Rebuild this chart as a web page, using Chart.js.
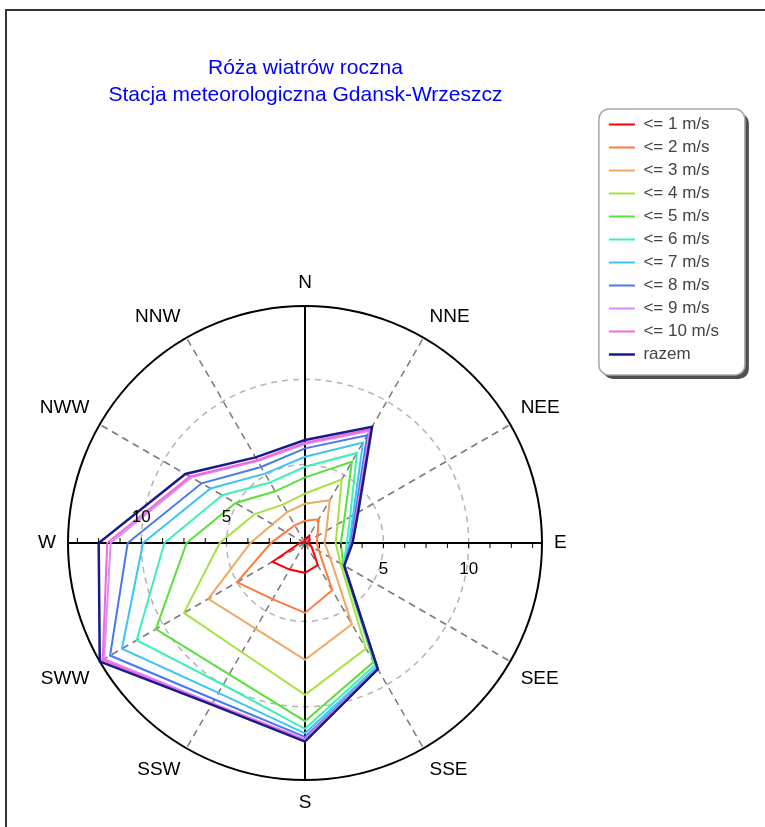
<!DOCTYPE html>
<html>
<head>
<meta charset="utf-8">
<title>Róża wiatrów roczna</title>
<script src="https://cdn.jsdelivr.net/npm/chart.js@4.4.1/dist/chart.umd.min.js"></script>
<style>
  html, body { margin: 0; padding: 0; background: #fff; overflow: hidden; }
  body { width: 765px; height: 827px; position: relative; }
  .frame { position: absolute; left: 5px; top: 9px; width: 900px; height: 900px; border: 2px solid #333; }
  .wrap { position: absolute; left: 8px; top: 12px; width: 757px; height: 815px; }
</style>
</head>
<body>
<div class="frame"></div>
<div class="wrap"><canvas id="rose"></canvas></div>
<script>
// directions, clockwise from north
const directions = ['N', 'NNE', 'NEE', 'E', 'SEE', 'SSE', 'S', 'SSW', 'SWW', 'W', 'NWW', 'NNW'];

// cumulative frequency [%] per speed class
const upTo1  = [0.6, 0.9, 0.7, 0.6, 0.85, 1.9, 2.15, 2.2, 2.6, 0.7, 0.45, 0.4];
const upTo2  = [1.7, 2.0, 1.25, 1.1, 1.35, 3.6, 4.5, 4.2, 5.0, 2.4, 1.7, 1.6];
const upTo3  = [2.7, 3.3, 1.85, 1.55, 2.1, 5.9, 7.25, 6.2, 6.95, 3.6, 2.6, 2.5];
const upTo4  = [3.3, 4.7, 2.6, 2.2, 2.8, 7.55, 9.3, 7.8, 8.6, 5.4, 3.8, 3.0];
const upTo5  = [4.25, 5.9, 3.05, 2.5, 2.98, 8.45, 10.85, 9.3, 10.5, 7.35, 5.1, 3.9];
const upTo6  = [4.87, 6.5, 3.45, 2.85, 3.02, 8.65, 11.3, 10.0, 11.8, 8.65, 6.0, 4.5];
const upTo7  = [5.46, 7.2, 3.65, 3.0, 3.04, 8.8, 11.56, 10.55, 12.8, 9.9, 6.8, 5.1];
const upTo8  = [5.95, 7.7, 3.8, 3.1, 3.05, 8.9, 11.77, 11.0, 13.6, 10.8, 7.4, 5.55];
const upTo9  = [6.2, 8.0, 3.9, 3.15, 3.06, 8.92, 11.9, 11.25, 14.0, 11.8, 8.1, 5.95];
const upTo10 = [6.28, 8.1, 3.93, 3.17, 3.06, 8.94, 11.95, 11.3, 14.1, 12.0, 8.2, 6.0];
const total  = [6.44, 8.27, 4.0, 3.19, 3.06, 8.95, 12.05, 11.35, 14.3, 12.5, 8.5, 6.2];

const seriesNames = ['<= 1 m/s', '<= 2 m/s', '<= 3 m/s', '<= 4 m/s', '<= 5 m/s', '<= 6 m/s',
  '<= 7 m/s', '<= 8 m/s', '<= 9 m/s', '<= 10 m/s', 'razem'];
const seriesColors = ['#ff0000', '#ff7a3d', '#f0a860', '#a8e040', '#5ae03c', '#3ef0b8',
  '#3cc4f5', '#4a78f0', '#d68cff', '#f26ad8', '#1a1a8c'];
const series = [upTo1, upTo2, upTo3, upTo4, upTo5, upTo6, upTo7, upTo8, upTo9, upTo10, total];

const axisLabels = [5, 10];
const minorStep = 1.25;

const titleLines = ['Róża wiatrów roczna', 'Stacja meteorologiczna Gdansk-Wrzeszcz'];

// the original scale runs from the smallest to the largest value
const allValues = series.flat();
const rMin = Math.min(...allValues);
const rMax = Math.max(...allValues);

const FONT = '"Liberation Sans", Arial, sans-serif';
const isOuter = c => c.tick && c.tick.value >= rMax - 1e-9;
const isMainAxis = c => c.index % 3 === 0;

function roundRectPath(ctx, x, y, w, h, rad) {
  ctx.beginPath();
  ctx.moveTo(x + rad, y);
  ctx.arcTo(x + w, y, x + w, y + h, rad);
  ctx.arcTo(x + w, y + h, x, y + h, rad);
  ctx.arcTo(x, y + h, x, y, rad);
  ctx.arcTo(x, y, x + w, y, rad);
  ctx.closePath();
}

// rounded box with shadow behind the legend
const legendFrame = {
  id: 'legendFrame',
  beforeDraw(chart) {
    const lg = chart.legend;
    if (!lg) return;
    const ctx = chart.ctx;
    const x = lg.left - 4, y = lg.top - 1, w = 146, h = 266;
    ctx.save();
    ctx.fillStyle = '#505050';
    roundRectPath(ctx, x + 4, y + 4, w, h, 10);
    ctx.fill();
    ctx.fillStyle = '#fff';
    ctx.strokeStyle = '#a8a8a8';
    ctx.lineWidth = 1.5;
    roundRectPath(ctx, x, y, w, h, 10);
    ctx.fill();
    ctx.stroke();
    ctx.restore();
  }
};

// ticks and numbers on the W-E axis, direction names round the circle
const roseAxes = {
  id: 'roseAxes',
  afterDraw(chart) {
    const r = chart.scales.r;
    const ctx = chart.ctx;
    const cx = r.xCenter, cy = r.yCenter;
    ctx.save();
    ctx.strokeStyle = '#000';
    ctx.lineWidth = 1;
    for (let v = minorStep; v < r.max; v += minorStep) {
      const d = r.getDistanceFromCenterForValue(v);
      ctx.beginPath();
      ctx.moveTo(cx + d, cy); ctx.lineTo(cx + d, cy + 5);
      ctx.moveTo(cx - d, cy); ctx.lineTo(cx - d, cy - 5);
      ctx.stroke();
    }

    ctx.fillStyle = '#000';
    ctx.textAlign = 'center';
    ctx.textBaseline = 'middle';
    ctx.font = '17px ' + FONT;
    axisLabels.forEach(v => {
      const d = r.getDistanceFromCenterForValue(v);
      ctx.fillText(String(v), cx + d, cy + 26);
      ctx.fillText(String(v), cx - d, cy - 26);
    });

    ctx.font = '19px ' + FONT;
    const n = chart.data.labels.length;
    const h = 22;
    chart.data.labels.forEach((label, i) => {
      const p = r.getPointPosition(i, r.drawingArea + 12);
      const a = Math.round(i * 360 / n);
      ctx.textAlign = (a === 0 || a === 180) ? 'center' : (a < 180 ? 'left' : 'right');
      let dy = 0;
      if (a === 90 || a === 270) dy = 0;
      else if (a < 90 || a > 270) dy = -h / 2;
      else dy = h / 2;
      ctx.fillText(label, p.x, p.y + dy);
    });
    ctx.restore();
  }
};

new Chart(document.getElementById('rose'), {
  type: 'radar',
  data: {
    labels: directions,
    datasets: series.map((values, i) => ({
      label: seriesNames[i],
      data: values,
      borderColor: seriesColors[i],
      backgroundColor: seriesColors[i],
      borderWidth: i === series.length - 1 ? 2.5 : 2,
      pointRadius: 0,
      pointHoverRadius: 0,
      fill: false,
      tension: 0,
      order: series.length - 1 - i
    }))
  },
  options: {
    responsive: true,
    maintainAspectRatio: false,
    animation: false,
    events: [],
    layout: { padding: { left: 0, right: 36, top: 98, bottom: 47 } },
    plugins: {
      tooltip: { enabled: false },
      title: {
        display: true,
        fullSize: false,
        text: titleLines,
        color: '#0000ff',
        font: { family: FONT, size: 21, weight: 'normal', lineHeight: 27 / 21 },
        padding: { top: -55.5, bottom: 197.5 }
      },
      legend: {
        position: 'right',
        align: 'start',
        labels: {
          usePointStyle: true,
          pointStyle: 'line',
          pointStyleWidth: 26,
          boxHeight: 17,
          padding: 6,
          color: '#444',
          font: { family: FONT, size: 17, lineHeight: 1.02 },
          sort: (a, b) => a.datasetIndex - b.datasetIndex
        }
      }
    },
    scales: {
      r: {
        min: rMin,
        max: rMax,
        ticks: { display: false, stepSize: 5 },
        pointLabels: { display: false },
        grid: {
          circular: true,
          color: c => isOuter(c) ? '#000' : '#b4b4b4',
          lineWidth: c => isOuter(c) ? 2 : 1.5
        },
        border: { dash: c => isOuter(c) ? [] : [6, 5] },
        angleLines: {
          color: c => isMainAxis(c) ? '#000' : '#7a7a7a',
          lineWidth: c => isMainAxis(c) ? 2 : 1.5,
          borderDash: c => isMainAxis(c) ? [] : [7, 5]
        }
      }
    }
  },
  plugins: [legendFrame, roseAxes]
});
</script>
</body>
</html>
